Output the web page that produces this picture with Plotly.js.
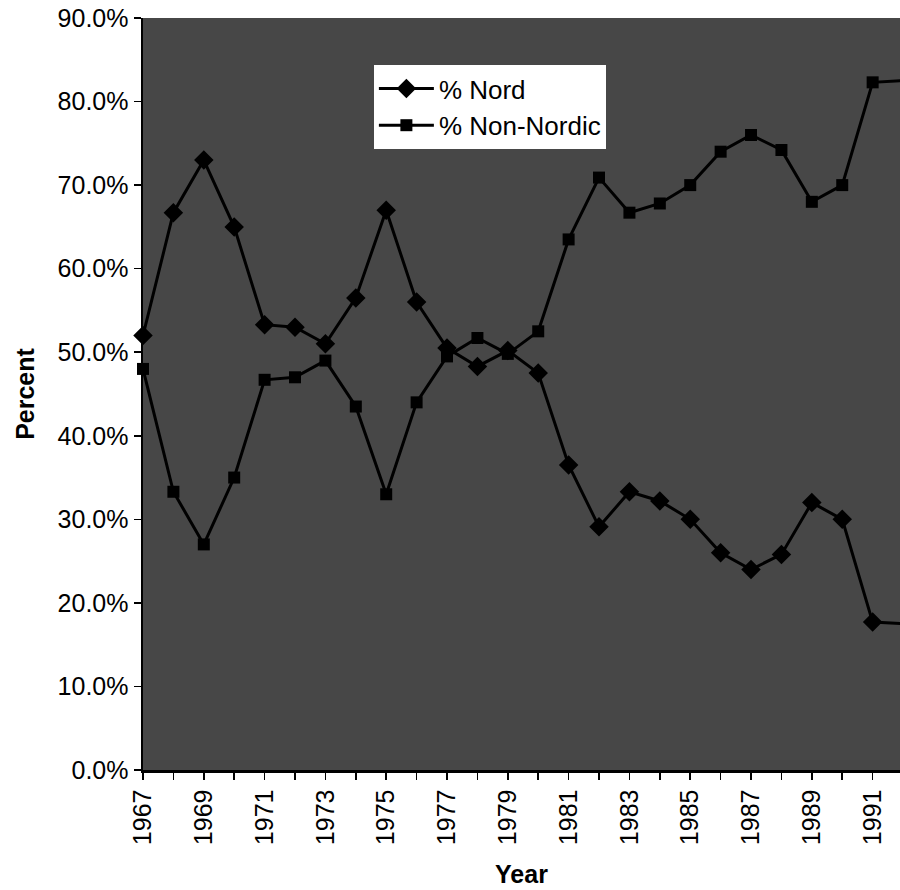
<!DOCTYPE html>
<html>
<head>
<meta charset="utf-8">
<script src="https://cdn.plot.ly/plotly-3.0.1.min.js"></script>
<style>html,body{margin:0;padding:0;background:#fff;}#chart{width:900px;height:890px;}</style>
</head>
<body>
<div id="chart"></div>
<script>
const years = [1967,1968,1969,1970,1971,1972,1973,1974,1975,1976,1977,1978,1979,1980,1981,1982,1983,1984,1985,1986,1987,1988,1989,1990,1991,1992];
const nordPct = [52.0,66.7,73.0,65.0,53.3,53.0,51.0,56.5,67.0,56.0,50.5,48.3,50.2,47.5,36.5,29.1,33.3,32.2,30.0,26.0,24.0,25.8,32.0,30.0,17.7,17.5];
const nonNordicPct = [48.0,33.3,27.0,35.0,46.7,47.0,49.0,43.5,33.0,44.0,49.5,51.7,49.8,52.5,63.5,70.9,66.7,67.8,70.0,74.0,76.0,74.2,68.0,70.0,82.3,82.5];
const seriesNames = ["% Nord", "% Non-Nordic"];
const yTicks = [0,10,20,30,40,50,60,70,80,90];
const yTickText = ["0.0%","10.0%","20.0%","30.0%","40.0%","50.0%","60.0%","70.0%","80.0%","90.0%"];

const FONT = "Liberation Sans, Arial, Helvetica, sans-serif";

const traces = [
  {
    x: years, y: nordPct, name: seriesNames[0], type: "scatter", mode: "lines+markers",
    line: {color: "#000", width: 3},
    marker: {symbol: "diamond", size: 15, color: "#000"},
    cliponaxis: false
  },
  {
    x: years, y: nonNordicPct, name: seriesNames[1], type: "scatter", mode: "lines+markers",
    line: {color: "#000", width: 3},
    marker: {symbol: "square", size: 12, color: "#000"},
    cliponaxis: false
  }
];

const layout = {
  width: 900, height: 890,
  margin: {l: 143, r: 0, t: 18, b: 120},
  paper_bgcolor: "#ffffff",
  plot_bgcolor: "#474747",
  font: {family: FONT, color: "#000", size: 25},
  showlegend: true,
  legend: {
    x: 0.305, y: 0.9375, xanchor: "left", yanchor: "top",
    bgcolor: "#ffffff", borderwidth: 0,
    font: {family: FONT, size: 26, color: "#000"},
    itemwidth: 55,
    tracegroupgap: 0
  },
  xaxis: {
    range: [1967, 1991.9],
    tickmode: "linear", tick0: 1967, dtick: 2,
    tickangle: -90,
    ticks: "outside", ticklen: 7, tickwidth: 1.5, tickcolor: "#000",
    minor: {dtick: 1, ticks: "outside", ticklen: 7, tickwidth: 1.5, tickcolor: "#000", showgrid: false},
    showline: true, linecolor: "#000", linewidth: 2.5,
    showgrid: false, zeroline: false,
    tickfont: {family: FONT, size: 25, color: "#000"},
    title: {text: "<b>Year</b>", font: {family: FONT, size: 25, color: "#000"}, standoff: 22}
  },
  yaxis: {
    range: [0, 90],
    tickmode: "array", tickvals: yTicks, ticktext: yTickText,
    ticks: "outside", ticklen: 7, tickwidth: 1.5, tickcolor: "#000",
    showline: true, linecolor: "#000", linewidth: 2.5,
    showgrid: false, zeroline: false,
    tickfont: {family: FONT, size: 25, color: "#000"},
    title: {text: "<b>Percent</b>", font: {family: FONT, size: 25, color: "#000"}, standoff: 16}
  }
};

Plotly.newPlot("chart", traces, layout, {displayModeBar: false, staticPlot: true});
</script>
</body>
</html>
